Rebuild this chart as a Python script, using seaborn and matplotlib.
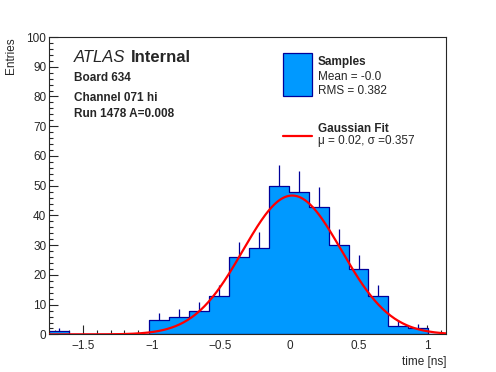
import numpy as np
import pandas as pd
import matplotlib
matplotlib.use("Agg")
import matplotlib.pyplot as plt
from matplotlib.patches import Rectangle
from matplotlib.lines import Line2D
from matplotlib.ticker import MultipleLocator, FuncFormatter
import seaborn as sns

# histogram contents
bin_start = -1.746
bin_width = 0.145
counts = [1, 0, 0, 0, 0, 5, 6, 8, 13, 26, 29, 50, 48, 43, 30, 22, 13, 3, 2, 0]

# gaussian fit result
fit_mu = 0.02
fit_sigma = 0.357
fit_amp = 46.7

x_range = (-1.746, 1.14)
y_range = (0, 100)

sns.set_style("ticks")
plt.rcParams['font.family'] = ['Liberation Sans', 'DejaVu Sans']

edges = bin_start + bin_width * np.arange(len(counts) + 1)
df = pd.DataFrame({'center': (edges[:-1] + edges[1:]) / 2, 'n': counts})

fig = plt.figure(figsize=(4.96, 3.72), dpi=100)
ax = fig.add_axes([0.099, 0.101, 0.801, 0.7995])

# error bars first so the fill hides the lower half
filled = df[df['n'] > 0]
ax.errorbar(filled['center'], filled['n'], yerr=np.sqrt(filled['n']),
            fmt='none', ecolor='#000099', elinewidth=0.9, zorder=0.8)

sns.histplot(data=df, x='center', weights='n', binwidth=bin_width,
             binrange=(float(edges[0]), float(edges[-1])), element='step',
             fill=True, color='#0099ff', edgecolor='#000099', linewidth=0.9,
             alpha=1, ax=ax, zorder=1)

xs = np.linspace(x_range[0], x_range[1], 400)
gauss = fit_amp * np.exp(-0.5 * ((xs - fit_mu) / fit_sigma) ** 2)
sns.lineplot(x=xs, y=gauss, color='red', linewidth=1.6, ax=ax, zorder=3)

ax.set_xlim(*x_range)
ax.set_ylim(*y_range)
ax.xaxis.set_major_locator(MultipleLocator(0.5))
ax.xaxis.set_minor_locator(MultipleLocator(0.1))
ax.yaxis.set_major_locator(MultipleLocator(10))
ax.yaxis.set_minor_locator(MultipleLocator(2))
ax.xaxis.set_major_formatter(FuncFormatter(lambda v, p: ('%g' % v).replace('-', '\u2212')))
ax.tick_params(which='both', direction='in', top=False, right=False,
               width=0.8, labelsize=8.5)
ax.tick_params(which='major', length=6.5)
ax.tick_params(which='minor', length=3.2)
ax.tick_params(axis='y', pad=2)
ax.tick_params(axis='x', pad=4)
for s in ax.spines.values():
    s.set_linewidth(0.8)

ax.set_xlabel('time [ns]', fontsize=8.5, loc='right', labelpad=3)
ax.set_ylabel('Entries', fontsize=8.5, loc='top', labelpad=7)


def fp(x, y):
    return x / 496, 1 - y / 372


# ATLAS label block
fig.text(*fp(73.5, 62.5), 'ATLAS', style='italic', fontsize=12, va='baseline')
fig.text(*fp(131, 62.5), 'Internal', weight='bold', fontsize=12, va='baseline')
fig.text(*fp(74, 81), 'Board 634', weight='bold', fontsize=8.5, va='baseline')
fig.text(*fp(74, 101), 'Channel 071 hi', weight='bold', fontsize=8.5, va='baseline')
fig.text(*fp(74, 117), 'Run 1478 A=0.008', weight='bold', fontsize=8.5, va='baseline')

# legend
fig.patches.append(Rectangle(fp(283.3, 96), 28.4 / 496, 42.7 / 372,
                             transform=fig.transFigure, fc='#0099ff',
                             ec='#000099', lw=0.9))
fig.lines.append(Line2D([283 / 496, 312 / 496], [1 - 136 / 372] * 2,
                        transform=fig.transFigure, color='red', lw=1.6))
fig.text(*fp(317.5, 65), 'Samples', weight='bold', fontsize=8.5, va='baseline')
fig.text(*fp(317.5, 79.5), 'Mean = -0.0', fontsize=8.5, va='baseline')
fig.text(*fp(317.5, 94), 'RMS = 0.382', fontsize=8.5, va='baseline')
fig.text(*fp(317.5, 132.5), 'Gaussian Fit', weight='bold', fontsize=8.5, va='baseline')
fig.text(*fp(317.5, 144), 'μ = 0.02, σ =0.357', fontsize=8.5, va='baseline')

fig.savefig('out.png', dpi=100)
